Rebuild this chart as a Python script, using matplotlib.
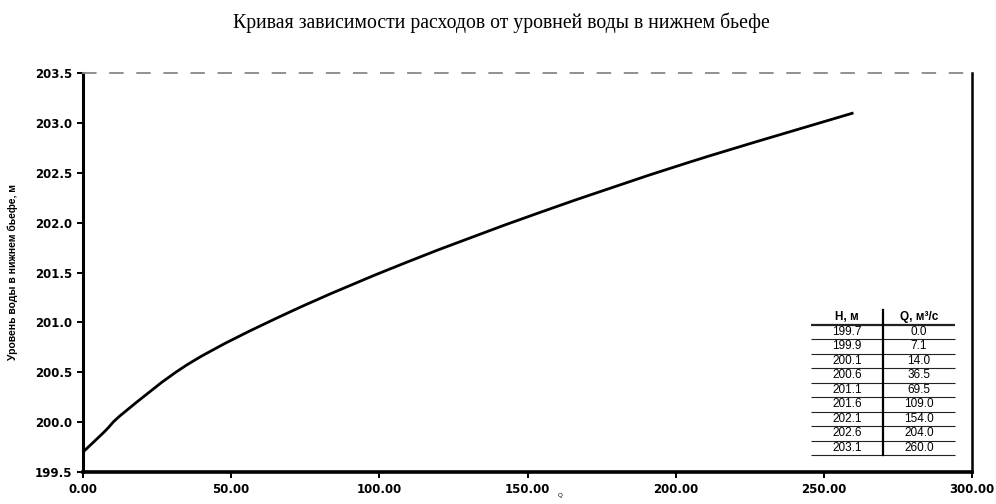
import matplotlib.pyplot as plt
from matplotlib.path import Path
from matplotlib.patches import PathPatch

# Q - H rating curve of the tailwater
levels = [199.7, 199.9, 200.1, 200.6, 201.1, 201.6, 202.1, 202.6, 203.1]
discharges = [0.0, 7.1, 14.0, 36.5, 69.5, 109.0, 154.0, 204.0, 260.0]

level_labels = ['199.7', '199.9', '200.1', '200.6', '201.1', '201.6', '202.1', '202.6', '203.1']
discharge_labels = ['0.0', '7.1', '14.0', '36.5', '69.5', '109.0', '154.0', '204.0', '260.0']

x_ticks = [0, 50, 100, 150, 200, 250, 300]
y_ticks = [199.5, 200.0, 200.5, 201.0, 201.5, 202.0, 202.5, 203.0, 203.5]

plt.rcParams['font.family'] = ['Liberation Sans', 'DejaVu Sans']


def smooth_path(xs, ys):
    # Catmull-Rom through the points, written as cubic Bezier segments
    pts = list(zip(xs, ys))
    verts = [pts[0]]
    codes = [Path.MOVETO]
    for i in range(len(pts) - 1):
        p0 = pts[i - 1] if i > 0 else pts[i]
        p1 = pts[i]
        p2 = pts[i + 1]
        p3 = pts[i + 2] if i + 2 < len(pts) else pts[i + 1]
        c1 = (p1[0] + (p2[0] - p0[0]) / 6, p1[1] + (p2[1] - p0[1]) / 6)
        c2 = (p2[0] - (p3[0] - p1[0]) / 6, p2[1] - (p3[1] - p1[1]) / 6)
        verts += [c1, c2, p2]
        codes += [Path.CURVE4] * 3
    return Path(verts, codes)


fig = plt.figure(figsize=(9.96, 5.04), dpi=100)
ax = fig.add_axes([83 / 996, 1 - 472 / 504, (972 - 83) / 996, (472 - 73) / 504])

ax.add_patch(PathPatch(smooth_path(discharges, levels), facecolor='none',
                       edgecolor='black', linewidth=2.0))

ax.set_xlim(0, 300)
ax.set_ylim(199.5, 203.5)
ax.set_xticks(x_ticks)
ax.set_xticklabels([f'{v:.2f}' for v in x_ticks], fontsize=8.5, fontweight='bold',
                   family='DejaVu Sans')
ax.set_yticks(y_ticks)
ax.set_yticklabels([f'{v:.1f}' for v in y_ticks], fontsize=8.5, fontweight='bold',
                   family='DejaVu Sans')
ax.tick_params(direction='out', length=4, width=1.4, pad=4)

ax.spines['left'].set_linewidth(2.2)
ax.spines['bottom'].set_linewidth(2.6)
ax.spines['right'].set_linewidth(1.8)
ax.spines['top'].set_color('#888888')
ax.spines['top'].set_linestyle((0, (7, 8)))
ax.spines['top'].set_linewidth(1.3)

ax.set_ylabel('Уровень воды в нижнем бьефе, м', fontsize=7.5, fontweight='bold', labelpad=12)
fig.text(560 / 996, 1 - 496 / 504, 'Q', fontsize=4.5, ha='center', va='center')

fig.text(0.503, 0.955, 'Кривая зависимости расходов от уровней воды в нижнем бьефе',
         ha='center', va='center', fontsize=14.2, family='Liberation Serif')

# small table with the source points
tbl_left, tbl_w = (811 - 83) / 889, 144 / 889
tbl_bottom, tbl_h = (472 - 455) / 399, (455 - 310) / 399
cells = [[h, q] for h, q in zip(level_labels, discharge_labels)]
tbl = ax.table(cellText=cells, colLabels=['H, м', 'Q, м³/с'], cellLoc='center',
               bbox=[tbl_left, tbl_bottom, tbl_w, tbl_h])
tbl.auto_set_font_size(False)
tbl.set_fontsize(8.5)
for (r, c), cell in tbl.get_celld().items():
    cell.set_linewidth(0.8 if r > 0 else 1.6)
    cell.set_edgecolor('#222222')
    cell.visible_edges = 'B'
    cell.get_text().set_fontweight('bold' if r == 0 else 'normal')

# column divider, heavier than the row rules
ax.plot([tbl_left + tbl_w / 2] * 2, [tbl_bottom, tbl_bottom + tbl_h],
        transform=ax.transAxes, color='black', linewidth=1.6)

fig.savefig('out.png', dpi=100)
